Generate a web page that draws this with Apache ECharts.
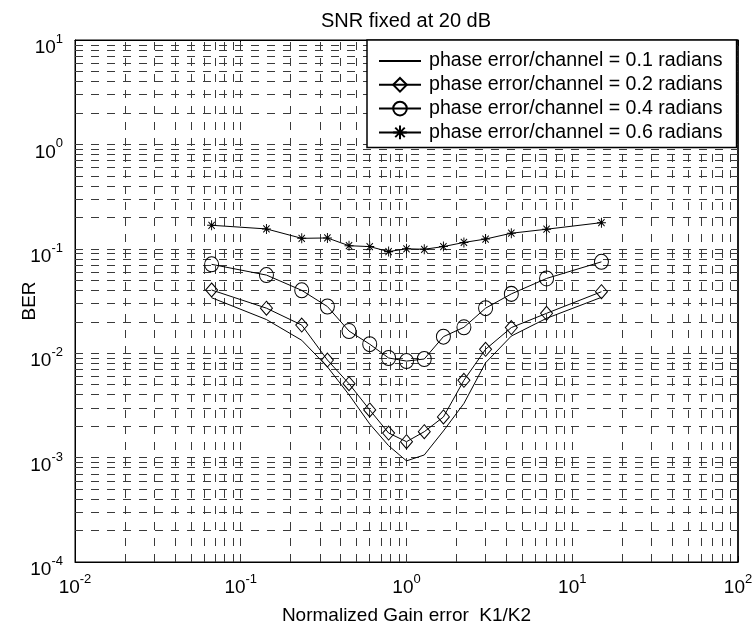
<!DOCTYPE html>
<html><head><meta charset="utf-8">
<script src="https://cdn.jsdelivr.net/npm/echarts@6/dist/echarts.min.js"></script>
<style>html,body{margin:0;padding:0;background:#fff}#c{width:754px;height:629px}</style>
</head><body><div id="c"></div>
<script>
// ---- data ----
const gainRatio = [0.0667, 0.1429, 0.2333, 0.3333, 0.45, 0.6, 0.78, 1, 1.28, 1.67, 2.22, 3, 4.29, 7, 15];
const berPhase01 = [0.034, 0.021, 0.0133, 0.0074, 0.0040, 0.0021, 0.0013, 0.00093, 0.00106, 0.0018, 0.0033, 0.0081, 0.0146, 0.0216, 0.0343];
const berPhase02 = [0.0403, 0.027, 0.0186, 0.0086, 0.0051, 0.00286, 0.00172, 0.00142, 0.00177, 0.00245, 0.0055, 0.0109, 0.0176, 0.0241, 0.0388];
const berPhase04 = [0.071, 0.056, 0.040, 0.028, 0.0163, 0.0122, 0.0090, 0.0084, 0.0088, 0.0144, 0.0177, 0.027, 0.037, 0.052, 0.075];
const berPhase06 = [0.168, 0.155, 0.126, 0.127, 0.107, 0.105, 0.094, 0.100, 0.099, 0.105, 0.115, 0.124, 0.141, 0.154, 0.178];
const seriesNames = [
  'phase error/channel = 0.1 radians',
  'phase error/channel = 0.2 radians',
  'phase error/channel = 0.4 radians',
  'phase error/channel = 0.6 radians'
];
const titleText = 'SNR fixed at 20 dB';
const xAxisName = 'Normalized Gain error  K1/K2';
const yAxisName = 'BER';
const xDecades = [-2, -1, 0, 1, 2];      // tick exponents (10^n)
const yDecades = [-4, -3, -2, -1, 0, 1];

// grid line values k*10^n (log grid)
function logGrid(decs) {
  const out = [];
  const lo = Math.pow(10, decs[0]), hi = Math.pow(10, decs[decs.length - 1]);
  for (let i = 0; i < decs.length - 1; i++) {
    for (let k = 1; k <= 9; k++) {
      const v = +(k * Math.pow(10, decs[i])).toPrecision(4);
      if (v > lo * 1.0001 && v < hi * 0.9999) out.push(v);
    }
  }
  return out;
}
const xGrid = logGrid(xDecades);
const yGrid = logGrid(yDecades);

const FONT = "'Liberation Sans', Arial, Helvetica, sans-serif";
const pair = arr => gainRatio.map((x, i) => [x, arr[i]]);
const expLabel = v => '{b|10}{s|' + Math.round(Math.log10(v)) + '}';
const richLab = {
  b: { fontSize: 19, fontFamily: FONT, color: '#000', lineHeight: 30 },
  s: { fontSize: 13, fontFamily: FONT, color: '#000', lineHeight: 12, verticalAlign: 'top' }
};
const starPath = 'path://M5,0L5,10M0,5L10,5M1.5,1.5L8.5,8.5M1.5,8.5L8.5,1.5';

const xMin = Math.pow(10, xDecades[0]), xMax = Math.pow(10, xDecades[xDecades.length - 1]);
const yMin = Math.pow(10, yDecades[0]), yMax = Math.pow(10, yDecades[yDecades.length - 1]);

const gridLineStyle = { color: '#3a3a3a', width: 1, type: [8, 8] };

const chart = echarts.init(document.getElementById('c'), null, { renderer: 'canvas' });
chart.setOption({
  animation: false,
  backgroundColor: '#fff',
  textStyle: { fontFamily: FONT },
  title: {
    text: titleText, left: 401, top: 6, textAlign: 'center',
    textStyle: { fontSize: 20, fontWeight: 'normal', color: '#000', fontFamily: FONT }
  },
  grid: {
    left: 75, right: 16, top: 40, bottom: 67, containLabel: false, outerBoundsMode: 'none',
    show: true, borderColor: '#000', borderWidth: 1, backgroundColor: '#fff'
  },
  legend: {
    left: 367, top: 40, orient: 'vertical',
    backgroundColor: '#fff', borderColor: '#000', borderWidth: 1.5, borderRadius: 0,
    padding: [11, 14, 5, 11], itemGap: 3.8, itemWidth: 42, itemHeight: 17,
    textStyle: { fontSize: 19.6, color: '#000', fontFamily: FONT, lineHeight: 20, padding: [0, 0, 0, 3] },
    data: seriesNames
  },
  xAxis: [{
    type: 'log', logBase: 10, min: xMin, max: xMax,
    name: xAxisName, nameLocation: 'middle', nameGap: 44, nameMoveOverlap: false,
    nameTextStyle: { fontSize: 19, color: '#000', fontFamily: FONT },
    axisLine: { show: true, lineStyle: { color: '#000', width: 1 } },
    axisTick: { show: true, inside: true, length: 6, lineStyle: { color: '#000' } },
    minorTick: { show: false },
    axisLabel: { margin: 11, formatter: expLabel, rich: richLab },
    splitLine: { show: false }
  }, {
    type: 'log', logBase: 10, min: xMin, max: xMax, position: 'top',
    axisLine: { show: true, lineStyle: { color: '#000', width: 1 } },
    axisTick: { show: true, inside: true, length: 6, lineStyle: { color: '#000' } },
    axisLabel: { show: false }, splitLine: { show: false }
  }],
  yAxis: [{
    type: 'log', logBase: 10, min: yMin, max: yMax,
    name: yAxisName, nameLocation: 'middle', nameGap: 36, nameMoveOverlap: false,
    nameTextStyle: { fontSize: 19, color: '#000', fontFamily: FONT },
    axisLine: { show: true, lineStyle: { color: '#000', width: 1 } },
    axisTick: { show: true, inside: true, length: 6, lineStyle: { color: '#000' } },
    axisLabel: { margin: 12, formatter: expLabel, rich: richLab, padding: [16, 0, 0, 0] },
    splitLine: { show: false }
  }, {
    type: 'log', logBase: 10, min: yMin, max: yMax, position: 'right',
    axisLine: { show: true, lineStyle: { color: '#000', width: 1.5 } },
    axisTick: { show: true, inside: true, length: 6, lineStyle: { color: '#000' } },
    axisLabel: { show: false }, splitLine: { show: false }
  }],
  series: [
    {
      name: seriesNames[0], type: 'line', data: pair(berPhase01), symbol: 'none',
      itemStyle: { color: 'none', borderWidth: 0 },
      lineStyle: { color: '#000', width: 1 },
      z: 3,
      markLine: {
        silent: true, symbol: 'none', animation: false, z: 1, precision: 12,
        label: { show: false },
        lineStyle: gridLineStyle,
        emphasis: { disabled: true },
        data: xGrid.map(v => ({ xAxis: v })).concat(yGrid.map(v => ({ yAxis: v })))
      }
    },
    {
      name: seriesNames[1], type: 'line', data: pair(berPhase02), symbol: 'diamond', symbolSize: [12, 14],
      itemStyle: { color: 'none', borderColor: '#000', borderWidth: 1 },
      lineStyle: { color: '#000', width: 1 }, z: 3
    },
    {
      name: seriesNames[2], type: 'line', data: pair(berPhase04), symbol: 'circle', symbolSize: [14, 15],
      itemStyle: { color: 'none', borderColor: '#000', borderWidth: 1 },
      lineStyle: { color: '#000', width: 1 }, z: 3
    },
    {
      name: seriesNames[3], type: 'line', data: pair(berPhase06), symbol: starPath, symbolSize: [9, 10],
      itemStyle: { color: 'none', borderColor: '#000', borderWidth: 1 },
      lineStyle: { color: '#000', width: 1 }, z: 3
    }
  ]
});
</script></body></html>
